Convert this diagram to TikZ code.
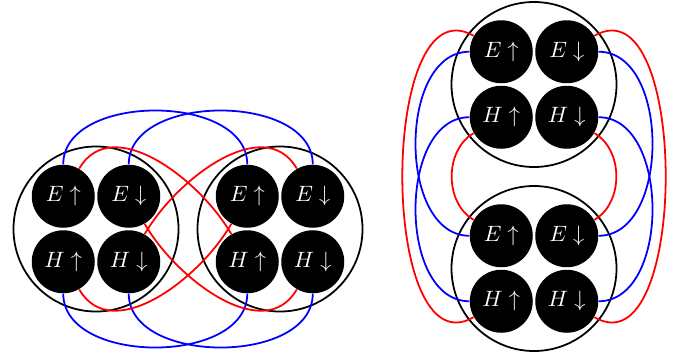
\documentclass[tikz,border=0pt]{standalone}
\tikzset{
  state/.style={circle, fill=black, text=white, minimum size=28.35pt, inner sep=0pt},
  group/.style={circle, draw=black, thick, minimum size=74.25pt, inner sep=0pt},
  rl/.style={red, thick},
  bl/.style={blue, thick},
}
\begin{document}
\begin{tikzpicture}[x=0.45pt, y=0.45pt]
\useasboundingbox (0,0) rectangle (674,358);
% horizontal pair
\node[group] (GL) at (96,129) {};
\node[group] (GR) at (280,129) {};
\node[state] (LEu) at (63.25,161.75) {$E\uparrow$};
\node[state] (LEd) at (128.75,161.75) {$E\downarrow$};
\node[state] (LHu) at (63.25,96.25) {$H\uparrow$};
\node[state] (LHd) at (128.75,96.25) {$H\downarrow$};
\node[state] (REu) at (247.25,161.75) {$E\uparrow$};
\node[state] (REd) at (312.75,161.75) {$E\downarrow$};
\node[state] (RHu) at (247.25,96.25) {$H\uparrow$};
\node[state] (RHd) at (312.75,96.25) {$H\downarrow$};
% vertical pair
\node[group] (GT) at (534,273.5) {};
\node[group] (GB) at (534,89.5) {};
\node[state] (TEu) at (501.25,306.25) {$E\uparrow$};
\node[state] (TEd) at (566.75,306.25) {$E\downarrow$};
\node[state] (THu) at (501.25,240.75) {$H\uparrow$};
\node[state] (THd) at (566.75,240.75) {$H\downarrow$};
\node[state] (BEu) at (501.25,122.25) {$E\uparrow$};
\node[state] (BEd) at (566.75,122.25) {$E\downarrow$};
\node[state] (BHu) at (501.25,56.75) {$H\uparrow$};
\node[state] (BHd) at (566.75,56.75) {$H\downarrow$};
% connectors, horizontal pair
\draw[bl] (LEu.90) to[out=90,in=90] (REu.90);
\draw[bl] (LEd.90) to[out=90,in=90] (REd.90);
\draw[bl] (LHu.-90) to[out=-90,in=-90] (RHu.-90);
\draw[bl] (LHd.-90) to[out=-90,in=-90] (RHd.-90);
\draw[rl] (LEu.60) to[out=60,in=120] (RHu.120);
\draw[rl] (REd.120) to[out=120,in=60] (LHd.60);
\draw[rl] (LHu.-60) to[out=-60,in=-120] (REu.-120);
\draw[rl] (RHd.-120) to[out=-120,in=-60] (LEd.-60);
% connectors, vertical pair
\draw[rl] (TEd.30) to[out=30,in=-30] (BHd.-30);
\draw[rl] (TEu.150) to[out=150,in=-150] (BHu.-150);
\draw[bl] (TEd.0) to[out=0,in=0] (BEd.0);
\draw[bl] (THd.0) to[out=0,in=0] (BHd.0);
\draw[bl] (TEu.180) to[out=180,in=180] (BEu.180);
\draw[bl] (THu.180) to[out=180,in=180] (BHu.180);
\draw[rl] (THd.-30) to[out=-30,in=30] (BEd.30);
\draw[rl] (THu.-150) to[out=-150,in=150] (BEu.150);
\end{tikzpicture}
\end{document}
